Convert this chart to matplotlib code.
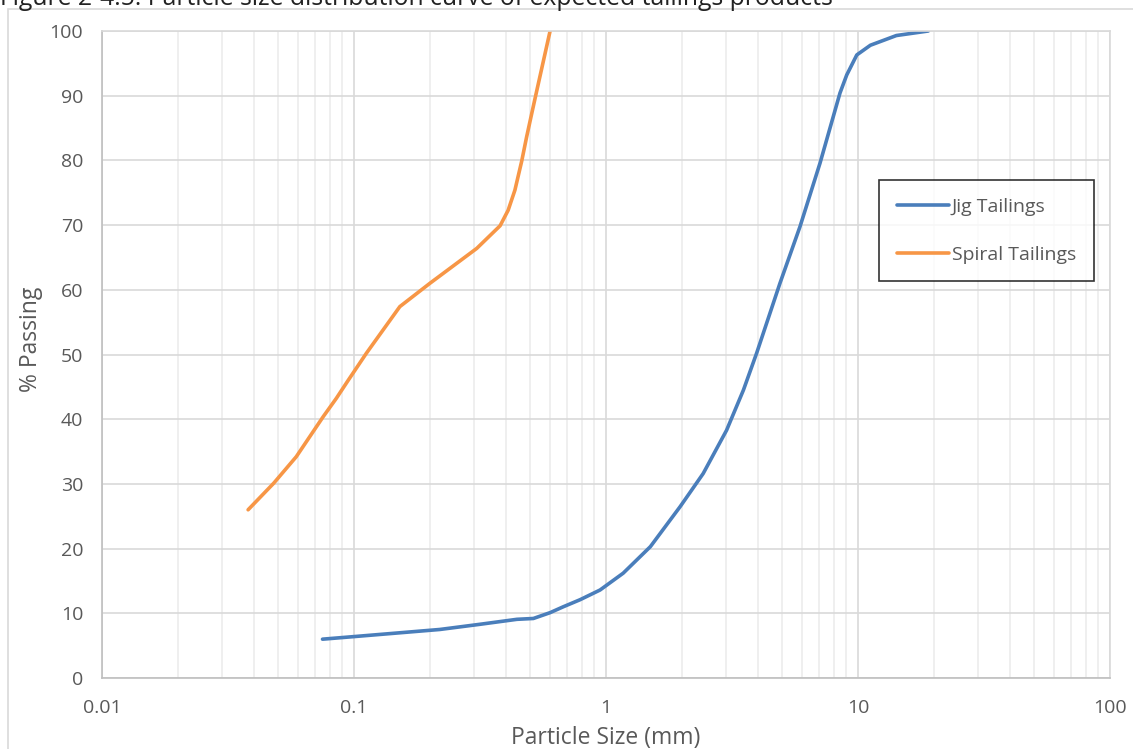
import numpy as np
import matplotlib.pyplot as plt
from matplotlib.patches import Rectangle
from matplotlib.ticker import LogLocator, FixedLocator

plt.rcParams['font.family'] = ['Open Sans', 'DejaVu Sans']

# Datos
jig_size = [0.075, 0.1, 0.219, 0.316, 0.443, 0.515, 0.6, 0.676, 0.789, 0.947, 1.17, 1.5,
            1.97, 2.43, 3.01, 3.51, 3.96, 4.9, 5.89, 7.07, 8.48, 9.02, 9.89, 11.2, 14.2, 19.0]
jig_pass = [6.0, 6.4, 7.5, 8.3, 9.07, 9.2, 10.1, 11.0, 12.1, 13.6, 16.2, 20.3,
            26.5, 31.6, 38.3, 44.5, 50.2, 61.0, 69.8, 79.6, 90.4, 93.2, 96.3, 97.8, 99.3, 100.0]

spiral_size = [0.038, 0.048, 0.059, 0.0755, 0.085, 0.0948, 0.112, 0.152, 0.2, 0.307,
               0.38, 0.409, 0.435, 0.463, 0.484, 0.507, 0.53, 0.6]
spiral_pass = [26.0, 30.1, 34.2, 40.4, 43.2, 46.0, 50.2, 57.4, 61.0, 66.4,
               69.9, 72.3, 75.4, 79.9, 83.6, 87.2, 90.6, 100.0]

x_ticks = [0.01, 0.1, 1, 10, 100]
x_labels = ['0.01', '0.1', '1', '10', '100']
y_ticks = list(range(0, 101, 10))

W, H = 1133, 749
fig = plt.figure(figsize=(W / 100, H / 100), dpi=100)
ax = fig.add_axes([102 / W, 1 - 678 / H, (1110 - 102) / W, (678 - 31) / H])

# Marco del area del grafico
fig.add_artist(Rectangle((8 / W, -0.1), 1.2, (H - 9) / H + 0.1, transform=fig.transFigure,
                         fill=False, edgecolor='#d9d9d9', linewidth=1.2, clip_on=False))

ax.plot(jig_size, jig_pass, color='#4a7ebb', linewidth=2.6, label='Jig Tailings',
        solid_capstyle='round', solid_joinstyle='round')
ax.plot(spiral_size, spiral_pass, color='#f79646', linewidth=2.6, label='Spiral Tailings',
        solid_capstyle='round', solid_joinstyle='round')

ax.set_xscale('log')
ax.set_xlim(0.01, 100)
ax.set_ylim(0, 100)
ax.xaxis.set_major_locator(FixedLocator(x_ticks))
ax.set_xticklabels(x_labels)
ax.xaxis.set_minor_locator(LogLocator(base=10, subs=np.arange(2, 10)))
ax.xaxis.set_minor_formatter(plt.NullFormatter())
ax.set_yticks(y_ticks)

ax.grid(True, which='major', color='#d9d9d9', linewidth=1.2)
ax.grid(True, which='minor', axis='x', color='#ececec', linewidth=1.2)
ax.set_axisbelow(True)

for s in ax.spines.values():
    s.set_color('#d9d9d9')
    s.set_linewidth(1.2)
ax.spines['left'].set_color('#bfbfbf')
ax.spines['bottom'].set_color('#bfbfbf')

ax.tick_params(which='both', length=0, labelsize=14, colors='#595959')
ax.tick_params(axis='x', pad=15)
ax.tick_params(axis='y', pad=13.5)

ax.set_xlabel('Particle Size (mm)', fontsize=16.5, color='#595959')
ax.set_ylabel('% Passing', fontsize=16.5, color='#595959')
ax.xaxis.set_label_coords(0.5, (678 - 726) / 647)
ax.yaxis.set_label_coords((43 - 102) / 1008, 0.523)

leg = ax.legend(loc='upper left', bbox_to_anchor=((879 - 102) / 1008, 1 - (180 - 31) / 647),
                fontsize=14, frameon=True, fancybox=False, edgecolor='black',
                borderpad=0.9, labelspacing=1.55, handlelength=2.7, handletextpad=0.15,
                borderaxespad=0)
leg.get_frame().set_linewidth(1.2)
for t in leg.get_texts():
    t.set_color('#595959')

fig.text(0.0, 1 - 5 / H, 'Figure 2-4.5: Particle size distribution curve of expected tailings products',
         fontsize=17.8, color='#222222', va='baseline', ha='left')

fig.savefig('out.png', dpi=100)
